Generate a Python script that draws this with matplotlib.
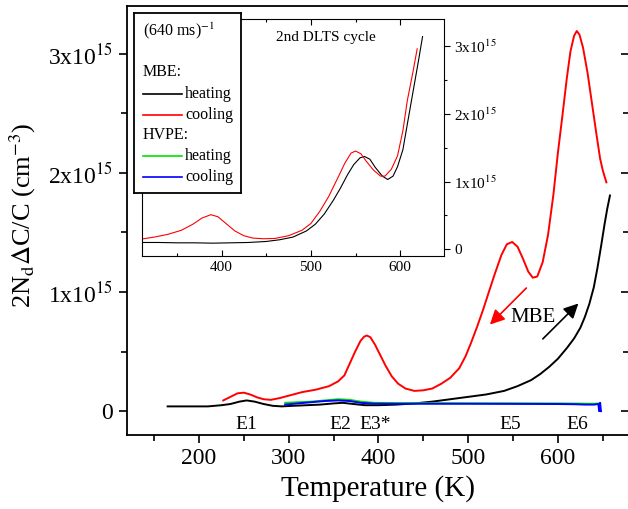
import numpy as np
import matplotlib
matplotlib.use('Agg')
import matplotlib.pyplot as plt
from matplotlib.ticker import MultipleLocator, FuncFormatter

plt.rcParams['font.family'] = ['Liberation Serif', 'DejaVu Serif']
plt.rcParams['mathtext.fontset'] = 'stix'

# main panel: MBE heating / cooling, HVPE heating / cooling (values in 1e15 cm^-3)
mbe_cool_T = [227, 235, 243, 250, 257, 265, 272, 280, 290, 300, 315, 330, 345, 355, 362, 368,
              374, 380, 384, 387, 391, 396, 402, 408, 415, 422, 430, 440, 450, 460, 470, 480,
              490, 497, 503, 510, 517, 523, 530, 537, 543, 549, 555, 561, 567, 572, 577, 583,
              589, 595, 600, 605, 610, 614, 618, 621, 624, 628, 633, 638, 643, 647, 650, 654]
mbe_cool_S = [0.09, 0.12, 0.15, 0.155, 0.14, 0.115, 0.10, 0.095, 0.11, 0.13, 0.16, 0.18, 0.21,
              0.25, 0.30, 0.40, 0.50, 0.59, 0.625, 0.635, 0.62, 0.56, 0.47, 0.38, 0.29, 0.23,
              0.19, 0.17, 0.175, 0.19, 0.23, 0.28, 0.36, 0.46, 0.57, 0.71, 0.86, 1.00, 1.16,
              1.31, 1.40, 1.42, 1.38, 1.28, 1.17, 1.12, 1.13, 1.25, 1.48, 1.82, 2.17, 2.48, 2.80,
              3.02, 3.15, 3.19, 3.16, 3.05, 2.84, 2.58, 2.32, 2.12, 2.02, 1.92]

mbe_heat_T = [165, 180, 195, 210, 225, 235, 245, 253, 262, 272, 282, 292, 305, 320, 335, 350,
              360, 372, 385, 400, 420, 440, 460, 480, 500, 520, 540, 555, 570, 580, 590, 600,
              610, 618, 625, 630, 635, 640, 644, 648, 652, 655, 658]
mbe_heat_S = [0.04, 0.04, 0.04, 0.04, 0.05, 0.06, 0.08, 0.09, 0.08, 0.06, 0.045, 0.04, 0.045,
              0.05, 0.055, 0.065, 0.07, 0.06, 0.05, 0.05, 0.055, 0.065, 0.08, 0.10, 0.12, 0.14,
              0.17, 0.21, 0.26, 0.31, 0.37, 0.44, 0.53, 0.61, 0.70, 0.79, 0.90, 1.04, 1.20,
              1.38, 1.57, 1.70, 1.81]

hvpe_heat_T = [296, 310, 325, 340, 355, 368, 380, 395, 420, 450, 500, 550, 600, 630, 640, 647]
hvpe_heat_S = [0.07, 0.075, 0.08, 0.09, 0.10, 0.095, 0.08, 0.07, 0.068, 0.067, 0.066, 0.066,
               0.065, 0.063, 0.062, 0.065]

hvpe_cool_T = [296, 310, 325, 340, 355, 368, 380, 395, 420, 450, 500, 550, 600, 620, 630, 640,
               645, 646, 647, 648]
hvpe_cool_S = [0.055, 0.065, 0.075, 0.085, 0.09, 0.085, 0.07, 0.063, 0.062, 0.062, 0.062, 0.061,
               0.06, 0.058, 0.055, 0.055, 0.06, 0.0, 0.07, 0.0]

# inset: 2nd DLTS cycle, MBE
in_cool_T = [310, 325, 340, 355, 368, 378, 388, 396, 405, 415, 425, 435, 447, 460, 475, 490,
             500, 510, 520, 530, 538, 545, 550, 556, 562, 570, 578, 583, 590, 597, 603, 608,
             614, 619]
in_cool_S = [0.15, 0.18, 0.22, 0.28, 0.37, 0.46, 0.51, 0.48, 0.38, 0.27, 0.20, 0.165, 0.155,
             0.16, 0.20, 0.28, 0.38, 0.56, 0.78, 1.05, 1.27, 1.42, 1.45, 1.41, 1.30, 1.17, 1.08,
             1.08, 1.18, 1.38, 1.75, 2.20, 2.60, 2.96]

in_heat_T = [310, 330, 350, 370, 390, 410, 430, 450, 465, 480, 495, 505, 515, 525, 533, 541,
             548, 555, 560, 566, 572, 580, 586, 592, 597, 603, 608, 614, 620, 625]
in_heat_S = [0.10, 0.10, 0.095, 0.095, 0.09, 0.095, 0.10, 0.115, 0.14, 0.18, 0.27, 0.37, 0.52,
             0.72, 0.90, 1.10, 1.25, 1.35, 1.37, 1.33, 1.21, 1.08, 1.03, 1.08, 1.22, 1.47, 1.85,
             2.30, 2.75, 3.14]

peak_labels = ['E1', 'E2', 'E3*', 'E5', 'E6']
peak_T = [253, 357, 396, 547, 622]

scale = 1e15


def sci_fmt(v, pos):
    n = int(round(v / scale))
    if n == 0:
        return '0'
    return '%dx10$^{15}$' % n


fig = plt.figure(figsize=(6.28, 5.09), dpi=100)
ax = fig.add_axes([0.2022, 0.1454, 1.002 - 0.2022, 0.9882 - 0.1454])

ax.plot(mbe_heat_T, np.array(mbe_heat_S) * scale, color='black', lw=1.4)
ax.plot(hvpe_heat_T, np.array(hvpe_heat_S) * scale, color='#00e000', lw=1.4)
ax.plot(hvpe_cool_T, np.array(hvpe_cool_S) * scale, color='#0000ff', lw=1.4)
ax.plot(mbe_cool_T, np.array(mbe_cool_S) * scale, color='#ff0000', lw=1.4)

ax.set_xlim(119.7, 679.5)
ax.set_ylim(-0.2 * scale, 3.4 * scale)
ax.xaxis.set_major_locator(MultipleLocator(100))
ax.xaxis.set_minor_locator(MultipleLocator(50))
ax.yaxis.set_major_locator(MultipleLocator(scale))
ax.yaxis.set_minor_locator(MultipleLocator(0.5 * scale))
ax.yaxis.set_major_formatter(FuncFormatter(sci_fmt))
ax.tick_params(which='both', direction='out', top=False, right=False, labelsize=17, width=1.2)
ax.tick_params(which='major', length=6)
ax.tick_params(which='minor', length=4)
ax.tick_params(axis='y', pad=4)
for s in ax.spines.values():
    s.set_linewidth(1.3)

sec = ax.secondary_yaxis('right')
sec.yaxis.set_major_locator(MultipleLocator(scale))
sec.yaxis.set_minor_locator(MultipleLocator(0.5 * scale))
sec.tick_params(which='both', direction='in', labelright=False, width=1.2)
sec.tick_params(which='major', length=6)
sec.tick_params(which='minor', length=4)

ax.set_xlabel('Temperature (K)', fontsize=21, labelpad=4)
ax.set_ylabel(r'2N$_\mathrm{d}$$\Delta$C/C (cm$^{-3}$)', fontsize=19)
ax.yaxis.set_label_coords(-0.178, 0.513)

for lab, t in zip(peak_labels, peak_T):
    ax.text(t, -0.11 * scale, lab, fontsize=14, ha='center', va='center')

ax.text(572, 0.79 * scale, 'MBE', fontsize=15, ha='center', va='center')
ax.annotate('', xy=(522, 0.71 * scale), xytext=(567, 1.05 * scale),
            arrowprops=dict(arrowstyle='-|>', color='#ff0000', lw=1.2, mutation_scale=22))
ax.annotate('', xy=(625, 0.92 * scale), xytext=(581, 0.59 * scale),
            arrowprops=dict(arrowstyle='-|>', color='black', lw=1.2, mutation_scale=22))

# inset
ins = fig.add_axes([0.2261, 0.497, 0.7070 - 0.2261, 0.9627 - 0.497])
ins.plot(in_heat_T, np.array(in_heat_S) * scale, color='black', lw=0.8)
ins.plot(in_cool_T, np.array(in_cool_S) * scale, color='#ff0000', lw=0.8)
ins.set_xlim(311, 649)
ins.set_ylim(-0.1 * scale, 3.4 * scale)
ins.xaxis.set_major_locator(MultipleLocator(100))
ins.xaxis.set_minor_locator(MultipleLocator(50))
ins.yaxis.set_major_locator(MultipleLocator(scale))
ins.yaxis.set_minor_locator(MultipleLocator(0.5 * scale))
ins.yaxis.set_major_formatter(FuncFormatter(sci_fmt))
ins.tick_params(axis='x', which='both', direction='in', top=True, bottom=True, labelsize=11)
ins.tick_params(axis='y', which='both', direction='out', left=False, right=True,
                labelleft=False, labelright=True, labelsize=11)
ins.tick_params(which='major', length=4, width=0.8)
ins.tick_params(which='minor', length=2.5, width=0.8)
for s in ins.spines.values():
    s.set_linewidth(0.8)
ins.text(517, 3.12 * scale, '2nd DLTS cycle', fontsize=11, ha='center', va='center')

# legend box
leg = fig.add_axes([0.2134, 0.6208, 0.3838 - 0.2134, 0.9745 - 0.6208])
leg.set_xlim(134, 241)
leg.set_ylim(193, 13)
leg.set_xticks([])
leg.set_yticks([])
for s in leg.spines.values():
    s.set_linewidth(1.3)
leg_rows = [('(640 ms)$^{-1}$', None, 31), ('MBE:', None, 72), ('heating', 'black', 94),
            ('cooling', '#ff0000', 115), ('HVPE:', None, 135), ('heating', '#00e000', 156),
            ('cooling', '#0000ff', 177)]
for txt, col, yy in leg_rows:
    if col is None:
        leg.text(143, yy, txt, fontsize=11.5, ha='left', va='center')
    else:
        leg.plot([143, 182], [yy, yy], color=col, lw=1.2)
        leg.text(185, yy, txt, fontsize=11.5, ha='left', va='center')

fig.savefig('out.png', dpi=100)
